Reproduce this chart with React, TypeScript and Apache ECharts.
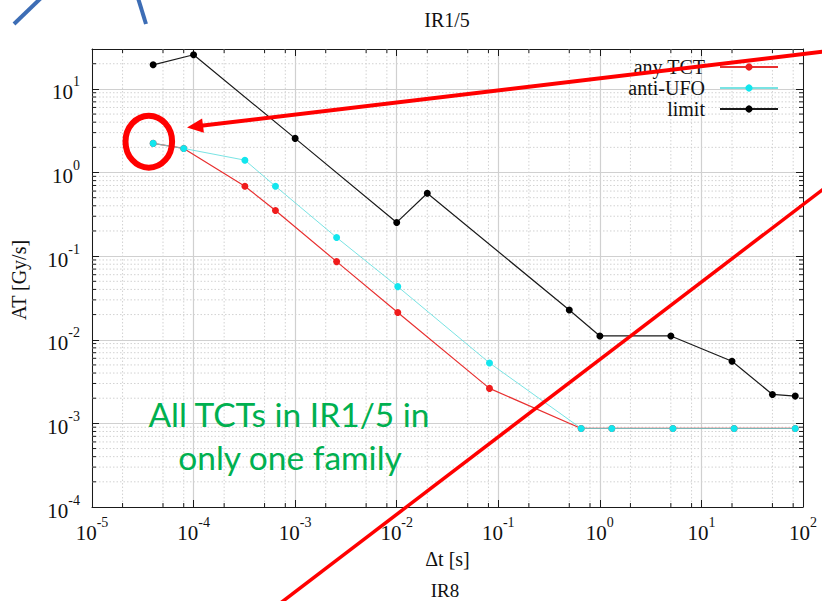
import React, { useEffect, useRef } from 'react';
import * as echarts from 'echarts';

// BLM running-sum integration times [s]
const runningSums = [4e-5, 8e-5, 3.2e-4, 6.4e-4, 2.56e-3, 1.024e-2, 8.192e-2, 0.65536, 1.31072, 5.24288, 20.97152, 83.88608];
// AT [Gy/s]
const anyTCT = [2.23, 1.94, 0.686, 0.352, 0.086, 0.0212, 0.00262, 0.00087, 0.00087, 0.00087, 0.00087, 0.00087];
const antiUFO = [2.23, 1.94, 1.405, 0.685, 0.167, 0.0432, 0.00528, 0.00087, 0.00087, 0.00087, 0.00087, 0.00087];
const limitTimes = [4e-5, 1e-4, 1e-3, 1e-2, 2e-2, 0.5, 1.0, 5.0, 20, 50, 83.9];
const limitValues = [19.4, 25.6, 2.56, 0.253, 0.565, 0.0227, 0.0111, 0.0111, 0.00553, 0.00222, 0.00212];

const seriesNames = ['any TCT', 'anti-UFO', 'limit'];
const xRange = [1e-5, 100];
const yRange = [1e-4, 30];
const xMinorMultipliers = [2, 5, 8];
const yMinorMultipliers = [2, 3, 4, 5, 6, 7, 8, 9];
const xDecades = [-5, -4, -3, -2, -1, 0, 1];
const yDecades = [-4, -3, -2, -1, 0, 1];

const SERIF = "'Liberation Serif', 'Times New Roman', serif";
const AXIS_COLOR = '#1a1a1a';

const xMinor: number[] = [];
xDecades.forEach((d) => xMinorMultipliers.forEach((m) => xMinor.push(m * Math.pow(10, d))));
const yMinor: number[] = [];
yDecades.forEach((d) => yMinorMultipliers.forEach((m) => {
  const v = m * Math.pow(10, d);
  if (v < yRange[1]) yMinor.push(v);
}));

const powLabel = (v: number) => {
  const l = Math.log10(v);
  const e = Math.round(l);
  if (Math.abs(l - e) > 1e-6) return '';
  return `{b|10}{s|${e}}`;
};

const labelRich = {
  b: { fontFamily: SERIF, fontSize: 21, lineHeight: 28, verticalAlign: 'bottom', color: '#111' },
  s: { fontFamily: SERIF, fontSize: 14, lineHeight: 14, verticalAlign: 'top', color: '#111' },
};

const App: React.FC = () => {
  const ref = useRef<HTMLDivElement>(null);

  useEffect(() => {
    if (!ref.current) return;
    const chart = echarts.init(ref.current, undefined, { renderer: 'svg' });

    const minorGridStyle = { stroke: '#d2d2d2', lineWidth: 1, lineDash: [1.5, 2] };
    const tickStyle = { stroke: AXIS_COLOR, lineWidth: 1 };

    const option: any = {
      animation: false,
      backgroundColor: '#ffffff',
      grid: { left: 92, right: 19, top: 49, bottom: 94 },
      legend: {
        data: seriesNames,
        orient: 'vertical',
        right: 43,
        top: 57,
        padding: 0,
        align: 'right',
        itemWidth: 58,
        itemHeight: 9,
        itemGap: 1,
        textStyle: { fontFamily: SERIF, fontSize: 20, color: '#111', padding: [0, 10, 0, 0] },
      },
      xAxis: [
        {
          type: 'log', min: xRange[0], max: xRange[1], position: 'bottom',
          axisLine: { show: true, lineStyle: { color: AXIS_COLOR, width: 1 } },
          axisTick: { show: true, inside: true, length: 7, lineStyle: { color: AXIS_COLOR } },
          axisLabel: { formatter: powLabel, rich: labelRich, margin: 8, showMinLabel: true, showMaxLabel: true, hideOverlap: false },
          splitLine: { show: true, lineStyle: { color: '#d0d0d0', width: 1.2 } },
        },
        {
          type: 'log', min: xRange[0], max: xRange[1], position: 'top',
          axisLine: { show: true, lineStyle: { color: AXIS_COLOR, width: 1 } },
          axisTick: { show: true, inside: true, length: 7, lineStyle: { color: AXIS_COLOR } },
          axisLabel: { show: false },
          splitLine: { show: false },
        },
      ],
      yAxis: [
        {
          type: 'log', min: yRange[0], max: yRange[1], position: 'left',
          axisLine: { show: true, lineStyle: { color: AXIS_COLOR, width: 1 } },
          axisTick: { show: true, inside: true, length: 7, lineStyle: { color: AXIS_COLOR } },
          axisLabel: { formatter: powLabel, rich: labelRich, margin: 12, showMinLabel: true, hideOverlap: false },
          splitLine: { show: true, lineStyle: { color: '#d0d0d0', width: 1.2 } },
        },
        {
          type: 'log', min: yRange[0], max: yRange[1], position: 'right',
          axisLine: { show: true, lineStyle: { color: AXIS_COLOR, width: 1 } },
          axisTick: { show: true, inside: true, length: 7, lineStyle: { color: AXIS_COLOR } },
          axisLabel: { show: false },
          splitLine: { show: false },
        },
      ],
      series: [
        {
          type: 'custom',
          name: 'xMinor',
          z: 1,
          silent: true,
          xAxisIndex: 0, yAxisIndex: 0,
          data: xMinor.map((v) => [v, 1]),
          encode: { x: 0, y: 1 },
          renderItem: (params: any, api: any) => {
            const x = api.value(0);
            const top = api.coord([x, yRange[1]]);
            const bot = api.coord([x, yRange[0]]);
            return {
              type: 'group',
              children: [
                { type: 'line', shape: { x1: top[0], y1: top[1], x2: bot[0], y2: bot[1] }, style: minorGridStyle },
                { type: 'line', shape: { x1: bot[0], y1: bot[1], x2: bot[0], y2: bot[1] - 4 }, style: tickStyle },
                { type: 'line', shape: { x1: top[0], y1: top[1], x2: top[0], y2: top[1] + 4 }, style: tickStyle },
              ],
            };
          },
        },
        {
          type: 'custom',
          name: 'yMinor',
          z: 1,
          silent: true,
          xAxisIndex: 0, yAxisIndex: 0,
          data: yMinor.map((v) => [1, v]),
          encode: { x: 0, y: 1 },
          renderItem: (params: any, api: any) => {
            const y = api.value(1);
            const l = api.coord([xRange[0], y]);
            const r = api.coord([xRange[1], y]);
            return {
              type: 'group',
              children: [
                { type: 'line', shape: { x1: l[0], y1: l[1], x2: r[0], y2: r[1] }, style: minorGridStyle },
                { type: 'line', shape: { x1: l[0], y1: l[1], x2: l[0] + 4, y2: l[1] }, style: tickStyle },
                { type: 'line', shape: { x1: r[0], y1: r[1], x2: r[0] - 4, y2: r[1] }, style: tickStyle },
              ],
            };
          },
        },
        {
          type: 'line',
          name: seriesNames[0],
          z: 3,
          data: runningSums.map((t, i) => [t, anyTCT[i]]),
          symbol: 'circle',
          symbolSize: 7,
          itemStyle: { color: '#f01c1c' },
          lineStyle: { color: '#e83030', width: 1.2 },
        },
        {
          type: 'line',
          name: seriesNames[1],
          z: 4,
          data: runningSums.map((t, i) => [t, antiUFO[i]]),
          symbol: 'circle',
          symbolSize: 7,
          itemStyle: { color: '#12e6ee' },
          lineStyle: { color: '#62dede', width: 1.0, opacity: 0.85 },
        },
        {
          type: 'line',
          name: seriesNames[2],
          z: 5,
          data: limitTimes.map((t, i) => [t, limitValues[i]]),
          symbol: 'circle',
          symbolSize: 7,
          itemStyle: { color: '#000000' },
          lineStyle: { color: '#1a1a1a', width: 1.2 },
        },
      ],
      graphic: [
        // slide decoration (blue lines at top-left)
        { type: 'line', z: 100, shape: { x1: 14, y1: 24, x2: 41, y2: -2 }, style: { stroke: '#3d6db5', lineWidth: 4 } },
        { type: 'line', z: 100, shape: { x1: 138, y1: -2, x2: 146, y2: 24 }, style: { stroke: '#3d6db5', lineWidth: 4 } },
        // title and axis names
        { type: 'text', z: 100, x: 447, y: 19.5, style: { text: 'IR1/5', fontFamily: SERIF, fontSize: 20, fill: '#111', align: 'center', verticalAlign: 'middle', textAlign: 'center', textVerticalAlign: 'middle' } },
        { type: 'text', z: 100, x: 447.5, y: 559, style: { text: 'Δt [s]', fontFamily: SERIF, fontSize: 20, fill: '#111', align: 'center', verticalAlign: 'middle', textAlign: 'center', textVerticalAlign: 'middle' } },
        { type: 'text', z: 100, x: 445, y: 590, style: { text: 'IR8', fontFamily: SERIF, fontSize: 19, fill: '#111', align: 'center', verticalAlign: 'middle', textAlign: 'center', textVerticalAlign: 'middle' } },
        { type: 'text', z: 100, x: 18.5, y: 280, rotation: Math.PI / 2, style: { text: 'AT [Gy/s]', fontFamily: SERIF, fontSize: 20, fill: '#111', align: 'center', verticalAlign: 'middle', textAlign: 'center', textVerticalAlign: 'middle' } },
        // annotations
        { type: 'ellipse', z: 100, shape: { cx: 148.8, cy: 141.7, rx: 23.3, ry: 26 }, style: { fill: 'transparent', stroke: '#ff0000', lineWidth: 6 } },
        { type: 'line', z: 100, shape: { x1: 201, y1: 125.8, x2: 830, y2: 50.8 }, style: { stroke: '#ff0000', lineWidth: 4 } },
        { type: 'polygon', z: 100, shape: { points: [[187, 127.5], [203.9, 132.7], [202.1, 118.6]] }, style: { fill: '#ff0000' } },
        { type: 'line', z: 100, shape: { x1: 270, y1: 611, x2: 830, y2: 184 }, style: { stroke: '#ff0000', lineWidth: 3.5 } },
        { type: 'text', z: 100, x: 289, y: 414, style: { text: 'All TCTs in IR1/5 in', fontFamily: 'Lato, sans-serif', fontSize: 33.5, fill: '#00b050', align: 'center', verticalAlign: 'middle', textAlign: 'center', textVerticalAlign: 'middle' } },
        { type: 'text', z: 100, x: 290, y: 457, style: { text: 'only one family', fontFamily: 'Lato, sans-serif', fontSize: 33.5, fill: '#00b050', align: 'center', verticalAlign: 'middle', textAlign: 'center', textVerticalAlign: 'middle' } },
      ],
    };

    chart.setOption(option);
    return () => chart.dispose();
  }, []);

  return <div ref={ref} style={{ width: 822, height: 601, position: 'absolute', left: 0, top: 0 }} />;
};

export default App;
